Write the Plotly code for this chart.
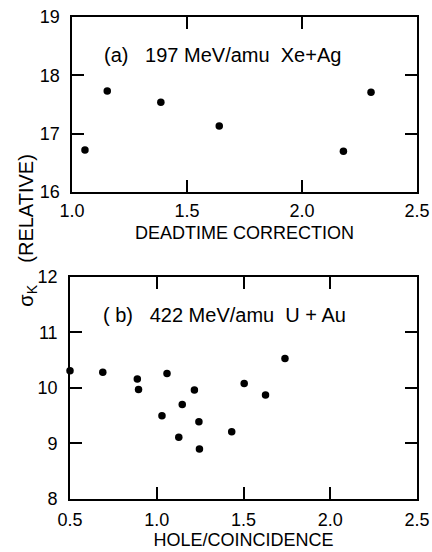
import plotly.graph_objects as go
from plotly.subplots import make_subplots

# Panel (a): 197 MeV/amu Xe+Ag
deadtime_x = [1.056, 1.153, 1.386, 1.64, 2.18, 2.30]
deadtime_y = [16.72, 17.73, 17.54, 17.13, 16.70, 17.71]

# Panel (b): 422 MeV/amu U+Au
hole_x = [0.50, 0.689, 0.888, 0.895, 1.059, 1.03, 1.147, 1.217, 1.243, 1.127, 1.246, 1.432, 1.504, 1.627, 1.739]
hole_y = [10.31, 10.28, 10.16, 9.97, 10.26, 9.50, 9.70, 9.96, 9.39, 9.11, 8.90, 9.21, 10.08, 9.87, 10.53]

xticks_a = [1.0, 1.5, 2.0, 2.5]
xticks_b = [0.5, 1.0, 1.5, 2.0, 2.5]
yticks_a = [16, 17, 18, 19]
yticks_b = [8, 9, 10, 11, 12]

FONT = "Liberation Sans"

fig = make_subplots(rows=2, cols=1)
fig.add_trace(go.Scatter(x=deadtime_x, y=deadtime_y, mode="markers",
                         marker=dict(color="black", size=7.5), cliponaxis=False), row=1, col=1)
fig.add_trace(go.Scatter(x=hole_x, y=hole_y, mode="markers",
                         marker=dict(color="black", size=7.5), cliponaxis=False), row=2, col=1)

axis_common = dict(showgrid=False, zeroline=False, showline=True, linecolor="black", linewidth=1.6,
                   mirror="ticks", ticks="inside", ticklen=12, tickwidth=1.5, tickcolor="black",
                   automargin=False,
                   tickfont=dict(family=FONT, size=18, color="black"))

fig.update_layout(
    width=432, height=552,
    margin=dict(l=70, r=15, t=17, b=53, autoexpand=False),
    paper_bgcolor="white", plot_bgcolor="white",
    showlegend=False,
    xaxis=dict(domain=[0.006, 1.0], range=[1.0, 2.5], tickvals=xticks_a, ticktext=["1.0", "1.5", "2.0", "2.5"],
               ticklabelstandoff=2,
               title=dict(text="DEADTIME CORRECTION", font=dict(family=FONT, size=18, color="black"), standoff=6),
               **axis_common),
    yaxis=dict(domain=[0.637, 1.0], range=[16, 19], tickvals=yticks_a, ticklabelstandoff=7, **axis_common),
    xaxis2=dict(domain=[0.0, 1.0], range=[0.5, 2.5], tickvals=xticks_b, ticktext=["0.5", "1.0", "1.5", "2.0", "2.5"],
                ticklabelstandoff=4,
                title=dict(text="HOLE/COINCIDENCE", font=dict(family=FONT, size=18, color="black"), standoff=2),
                **axis_common),
    yaxis2=dict(domain=[0.0, 0.461], range=[8, 12], tickvals=yticks_b, ticklabelstandoff=7, **axis_common),
)

fig.add_annotation(text="(a)   197 MeV/amu  Xe+Ag", xref="x", yref="y", x=1.13, y=18.35,
                   xanchor="left", yanchor="middle", showarrow=False,
                   font=dict(family=FONT, size=20, color="black"))
fig.add_annotation(text="( b)   422 MeV/amu  U + Au", xref="x2", yref="y2", x=0.68, y=11.32,
                   xanchor="left", yanchor="middle", showarrow=False,
                   font=dict(family=FONT, size=20, color="black"))
fig.add_annotation(text="σ<sub>K</sub>    (RELATIVE)", xref="paper", yref="paper",
                   x=-0.125, y=0.556, xanchor="center", yanchor="middle", textangle=-90,
                   showarrow=False, font=dict(family=FONT, size=20, color="black"))

fig.write_html("out.html")
